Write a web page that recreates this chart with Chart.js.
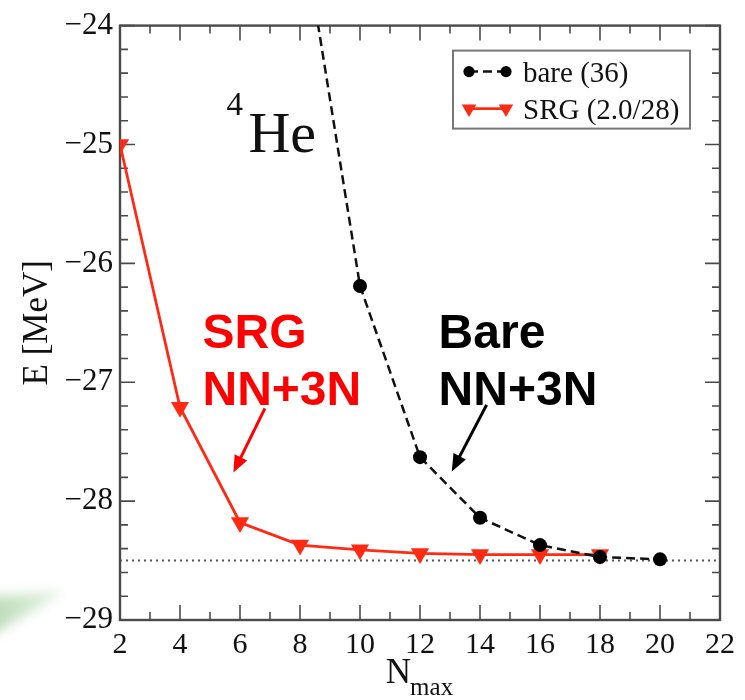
<!DOCTYPE html>
<html>
<head>
<meta charset="utf-8">
<script src="https://cdn.jsdelivr.net/npm/chart.js@4.4.0/dist/chart.umd.min.js"></script>
<style>
  html, body { margin: 0; padding: 0; background: #fff; }
  #wrap { position: relative; width: 745px; height: 700px; overflow: hidden; }
  #swoosh { position: absolute; left: 0; top: 0; width: 745px; height: 700px; filter: blur(6px); }
  #swoosh div {
    position: absolute; left: -20px; top: 586px; width: 80px; height: 56px;
    background: linear-gradient(90deg, rgba(165, 208, 160, 0.85), rgba(195, 224, 190, 0.4));
    clip-path: polygon(0 22%, 100% 8%, 100% 16%, 0 100%);
  }
  canvas { position: absolute; left: 0; top: 0; }
</style>
</head>
<body>
<div id="wrap">
  <div id="swoosh"><div></div></div>
  <canvas id="energyChart" width="745" height="700"></canvas>
</div>
<script>
// N_max values and ground-state energies of 4He (MeV)
const bareNmax = [8, 10, 12, 14, 16, 18, 20];
const bareEnergy = [-23.05, -26.19, -27.63, -28.14, -28.37, -28.47, -28.49];
const srgNmax = [2, 4, 6, 8, 10, 12, 14, 16, 18];
const srgEnergy = [-25.0, -27.21, -28.18, -28.37, -28.41, -28.44, -28.45, -28.45, -28.45];
const extrapolated = -28.5;

const xMin = 2, xMax = 22, yMin = -29, yMax = -24;

const RED = "#ff2a14";
const FRAME = "#4a4a4a";
const SERIF = "'Liberation Serif', 'DejaVu Serif', serif";
const SANS = "'Liberation Sans', Arial, sans-serif";

const toPoints = (xs, ys) => xs.map((x, i) => ({ x, y: ys[i] }));
const minus = (v) => String(v).replace("-", "\u2212");

// labels on the plot, in data units
const notes = [
    { text: "SRG", x: 4.75, y: -26.71, color: "#ff0000" },
    { text: "NN+3N", x: 4.75, y: -27.19, color: "#ff0000" },
    { text: "Bare", x: 12.62, y: -26.71, color: "#000" },
    { text: "NN+3N", x: 12.62, y: -27.19, color: "#000" },
];
const arrows = [
    { from: [6.83, -27.22], to: [5.78, -27.76], color: "#ff0000" },
    { from: [14.22, -27.19], to: [13.06, -27.75], color: "#000" },
];

function arrow(ctx, x1, y1, x2, y2, color) {
    const ang = Math.atan2(y2 - y1, x2 - x1);
    const head = 17, half = 7;
    ctx.strokeStyle = color;
    ctx.fillStyle = color;
    ctx.lineWidth = 3;
    ctx.beginPath();
    ctx.moveTo(x1, y1);
    ctx.lineTo(x2 - Math.cos(ang) * head * 0.8, y2 - Math.sin(ang) * head * 0.8);
    ctx.stroke();
    ctx.beginPath();
    ctx.moveTo(x2, y2);
    ctx.lineTo(x2 - Math.cos(ang) * head - Math.sin(ang) * half, y2 - Math.sin(ang) * head + Math.cos(ang) * half);
    ctx.lineTo(x2 - Math.cos(ang) * head + Math.sin(ang) * half, y2 - Math.sin(ang) * head - Math.cos(ang) * half);
    ctx.closePath();
    ctx.fill();
}

// frame with inward ticks on all four sides
const frameTicks = {
    id: "frameTicks",
    beforeDatasetsDraw(chart) {
        const { ctx, chartArea: a, scales: { x, y } } = chart;
        ctx.save();
        ctx.strokeStyle = FRAME;
        ctx.lineWidth = 1.6;
        ctx.beginPath();
        for (let v = xMin; v <= xMax; v += 1) {
            const px = x.getPixelForValue(v);
            const len = v % 2 === 0 ? 15 : 8;
            ctx.moveTo(px, a.bottom); ctx.lineTo(px, a.bottom - len);
            ctx.moveTo(px, a.top); ctx.lineTo(px, a.top + len);
        }
        for (let i = 0; i <= 25; i++) {
            const py = y.getPixelForValue(yMin + i * 0.2);
            const len = i % 5 === 0 ? 15 : 8;
            ctx.moveTo(a.left, py); ctx.lineTo(a.left + len, py);
            ctx.moveTo(a.right, py); ctx.lineTo(a.right - len, py);
        }
        ctx.stroke();
        ctx.lineWidth = 2.4;
        ctx.strokeRect(a.left, a.top, a.right - a.left, a.bottom - a.top);
        ctx.restore();
    },
    afterDraw(chart) {
        const { ctx, chartArea: a, scales: { x, y } } = chart;
        ctx.save();

        // x axis title with subscript
        ctx.fillStyle = "#111";
        ctx.textBaseline = "alphabetic";
        ctx.font = "35px " + SERIF;
        const wN = ctx.measureText("N").width;
        ctx.font = "25px " + SERIF;
        const wSub = ctx.measureText("max").width;
        const cx = (a.left + a.right) / 2 - (wN + wSub) / 2;
        ctx.font = "35px " + SERIF;
        ctx.fillText("N", cx, 683);
        ctx.font = "25px " + SERIF;
        ctx.fillText("max", cx + wN - 1, 695);

        // nucleus label
        ctx.font = "33px " + SERIF;
        ctx.fillText("4", x.getPixelForValue(5.55), y.getPixelForValue(-24.75));
        ctx.font = "58px " + SERIF;
        ctx.fillText("He", x.getPixelForValue(6.28), y.getPixelForValue(-25.06));

        // annotations
        ctx.font = "bold 48px " + SANS;
        notes.forEach((n) => {
            ctx.fillStyle = n.color;
            ctx.fillText(n.text, x.getPixelForValue(n.x), y.getPixelForValue(n.y));
        });
        arrows.forEach((r) => {
            arrow(ctx,
                x.getPixelForValue(r.from[0]), y.getPixelForValue(r.from[1]),
                x.getPixelForValue(r.to[0]), y.getPixelForValue(r.to[1]), r.color);
        });

        // legend box
        const bx = a.right - 267, by = a.top + 25, bw = 237, bh = 78;
        ctx.fillStyle = "#fff";
        ctx.fillRect(bx, by, bw, bh);
        ctx.strokeStyle = "#777";
        ctx.lineWidth = 2;
        ctx.strokeRect(bx, by, bw, bh);

        const s1 = bx + 16, s2 = bx + 53, tx = bx + 70;
        const rows = [by + 21, by + 58];
        const items = chart.data.datasets.filter((d) => d.label);
        items.forEach((d, i) => {
            const ry = rows[i];
            ctx.save();
            ctx.strokeStyle = d.borderColor;
            ctx.lineWidth = d.borderWidth;
            ctx.setLineDash(d.borderDash || []);
            ctx.beginPath();
            ctx.moveTo(s1, ry); ctx.lineTo(s2, ry);
            ctx.stroke();
            ctx.restore();
            [s1, s2].forEach((sx) => {
                ctx.fillStyle = d.pointBackgroundColor;
                ctx.strokeStyle = d.pointBackgroundColor;
                Chart.helpers.drawPoint(ctx, {
                    pointStyle: d.pointStyle,
                    rotation: d.pointRotation || 0,
                    radius: d.pointRadius * 0.8,
                    borderWidth: 0,
                }, sx, ry);
            });
            ctx.fillStyle = "#111";
            ctx.font = "29px " + SERIF;
            ctx.fillText(d.label, tx, ry + 10);
        });
        ctx.restore();
    },
};

new Chart(document.getElementById("energyChart").getContext("2d"), {
    type: "line",
    data: {
        datasets: [
            {
                label: "bare (36)",
                data: toPoints(bareNmax, bareEnergy),
                borderColor: "#111",
                borderWidth: 2.5,
                borderDash: [9, 5],
                pointStyle: "circle",
                pointRadius: 7,
                pointBackgroundColor: "#000",
                pointBorderWidth: 0,
                tension: 0,
            },
            {
                label: "SRG (2.0/28)",
                data: toPoints(srgNmax, srgEnergy),
                borderColor: RED,
                borderWidth: 2.8,
                pointStyle: "triangle",
                pointRotation: 180,
                pointRadius: 10.5,
                pointBackgroundColor: RED,
                pointBorderWidth: 0,
                tension: 0,
            },
            {
                data: toPoints([xMin, xMax], [extrapolated, extrapolated]),
                borderColor: "#555",
                borderWidth: 2,
                borderDash: [2, 4],
                pointRadius: 0,
            },
        ],
    },
    options: {
        responsive: false,
        animation: false,
        layout: { padding: { left: 0, top: 20, right: 25, bottom: 0 } },
        plugins: {
            legend: { display: false },
            tooltip: { enabled: false },
        },
        scales: {
            x: {
                type: "linear",
                min: xMin,
                max: xMax,
                grid: { display: false, drawTicks: false },
                border: { display: false },
                ticks: {
                    stepSize: 2,
                    padding: 7,
                    color: "#111",
                    font: { family: SERIF, size: 30 },
                },
                afterFit: (scale) => { scale.height = 80; },
            },
            y: {
                min: yMin,
                max: yMax,
                grid: { display: false, drawTicks: false },
                border: { display: false },
                ticks: {
                    stepSize: 1,
                    padding: 7,
                    color: "#111",
                    font: { family: SERIF, size: 31 },
                    callback: (v) => minus(v),
                },
                title: {
                    display: true,
                    text: "E [MeV]",
                    color: "#111",
                    font: { family: SERIF, size: 35 },
                    padding: { top: 17, bottom: 0 },
                },
                afterFit: (scale) => { scale.width = 120; },
            },
        },
    },
    plugins: [frameTicks],
});
</script>
</body>
</html>
